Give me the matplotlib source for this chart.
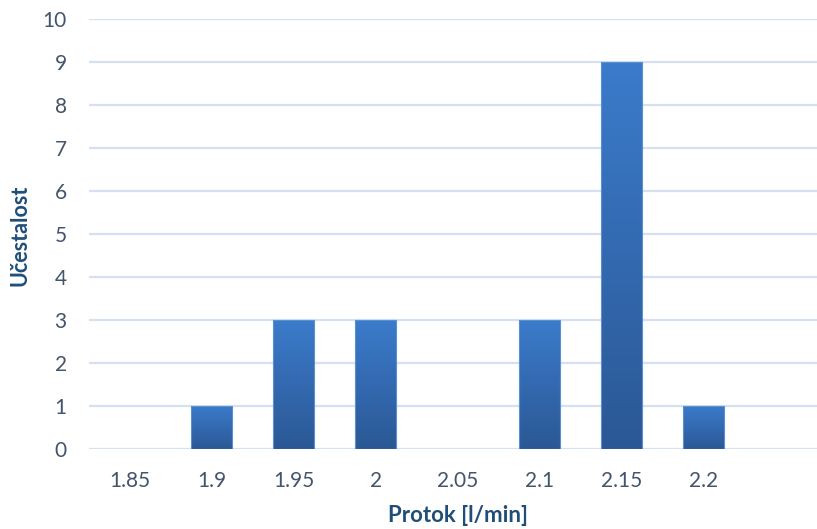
import matplotlib
matplotlib.use('Agg')
import matplotlib.pyplot as plt
import numpy as np
from matplotlib.colors import LinearSegmentedColormap

# data
categories = ['1.85', '1.9', '1.95', '2', '2.05', '2.1', '2.15', '2.2', '']
counts = [0, 1, 3, 3, 0, 3, 9, 1, 0]
y_ticks = list(range(0, 11))

plt.rcParams['font.family'] = ['Lato', 'DejaVu Sans']

fig = plt.figure(figsize=(8.17, 5.29), dpi=100)
ax = fig.add_axes([89 / 817, 80 / 529, 1 - 89 / 817, 430 / 529])

x = np.arange(len(categories))
bar_w = 0.5
bars = ax.bar(x, counts, width=bar_w, color='none', edgecolor='none', zorder=3)

# vertical gradient fill, like the Excel style
cmap = LinearSegmentedColormap.from_list('bar', ['#2B5895', '#3B7BCB'])
grad = np.linspace(0, 1, 256).reshape(-1, 1)
for b in bars:
    h = b.get_height()
    if h <= 0:
        continue
    x0 = b.get_x()
    ax.imshow(grad, cmap=cmap, origin='lower', aspect='auto',
              extent=[x0, x0 + b.get_width(), 0, h], zorder=3)
    ax.add_patch(plt.Rectangle((x0, 0), b.get_width(), h, fill=False,
                               edgecolor='#5A8FD0', linewidth=0.8, zorder=4))

ax.set_xlim(-0.5, 8.38)
ax.set_ylim(0, 10)
ax.set_xticks(x)
ax.set_xticklabels(categories)
ax.set_yticks(y_ticks)

ax.yaxis.grid(True, color='#D5E0F0', linewidth=1.6, zorder=0)
ax.set_axisbelow(True)
for s in ax.spines.values():
    s.set_visible(False)
ax.tick_params(axis='both', length=0, labelsize=15, labelcolor='#44546A')
ax.tick_params(axis='y', pad=16)
ax.tick_params(axis='x', pad=16)

ax.set_xlabel('Protok [l/min]', fontsize=16, fontweight='bold',
              color='#1F4E79', va='center')
ax.set_ylabel('Učestalost', fontsize=15.5, fontweight='bold',
              color='#1F4E79', va='center')
ax.xaxis.set_label_coords((458 - 89) / (817 - 89), -(516 - 449) / 430)
ax.yaxis.set_label_coords(-(89 - 20) / (817 - 89), (449 - 235) / 430)

fig.savefig('out.png', dpi=100)
